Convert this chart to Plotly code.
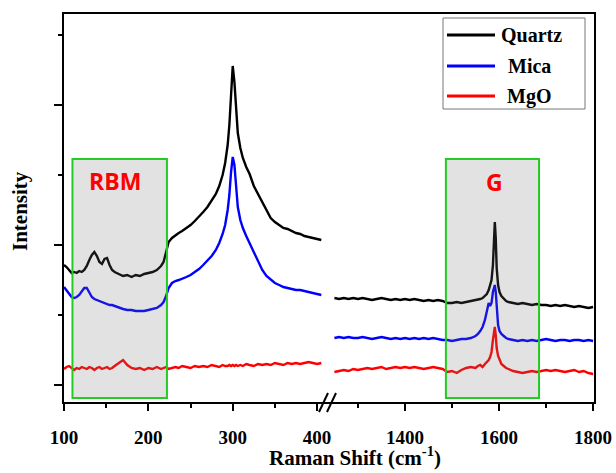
import plotly.graph_objects as go

# ---------------- data ----------------
left_shift = [100,103,106,109,112,115,118,121,124,127,
              130,133,136,139,142,145,148,151,154,157,
              160,165,170,175,180,185,190,195,200,205,
              210,215,218,221,224,228,232,236,240,245,
              250,255,260,265,270,275,280,284,288,291,
              294,296,298,300,302,304,306,309,312,316,
              320,325,330,335,340,345,350,355,360,365,
              370,375,380,385,390,395,400,405]

quartz_left = [138,136,133,130,131,130,132,131,133,137,
               143,148,151,147,141,139,144,145,138,133,
               131,129,127,128,126,128,127,129,130,131,
               133,137,141,151,161,165,168,170,172,175,
               178,182,186,191,196,202,209,217,228,240,
               258,278,308,337,321,291,270,255,245,236,
               229,217,209,200,192,185,181,178,175,174,
               172,170,169,167,166,165,164,163]

mica_left = [116,113,109,106,105,106,108,111,115,115,
             111,106,104,103,102,101,100,99,98,98,
             97,96,94,93,93,92,92,92,93,94,
             95,98,101,107,115,120,122,123,124,126,
             128,131,134,138,142,147,153,160,169,178,
             193,208,231,246,238,213,196,183,175,167,
             160,151,141,133,127,123,120,118,116,115,
             114,113,113,112,111,110,109,108]

mgo_left = [34,36,37,35,33,35,34,36,35,34,
            36,35,33,35,36,34,35,36,34,35,
            37,40,43,38,35,34,35,33,35,34,
            36,34,35,36,34,35,36,35,37,36,
            35,37,36,37,36,38,37,36,38,37,
            37,38,37,38,37,38,37,38,37,39,
            38,37,39,38,39,38,40,39,38,40,
            39,40,39,40,41,40,39,40]

right_shift = [1250,1260,1270,1280,1290,1300,1310,1320,1330,1340,
               1350,1360,1370,1380,1390,1400,1410,1420,1430,1440,
               1450,1460,1470,1480,1490,1500,1510,1520,1530,1540,
               1550,1555,1560,1565,1570,1574,1578,1581,1584,1587,
               1589,1591,1593,1595,1598,1601,1605,1610,1615,1620,
               1630,1640,1650,1660,1670,1680,1690,1700,1710,1720,
               1730,1740,1750,1760,1770,1780,1790,1800]

quartz_right = [105,104,105,104,105,104,105,104,103,104,
                105,104,103,104,103,104,103,104,103,102,
                103,102,103,102,100,100,101,100,101,102,
                103,103,104,105,107,109,113,117,123,138,
                163,181,165,135,118,111,107,104,102,101,
                100,99,100,99,98,99,98,98,97,98,
                97,98,97,96,97,96,95,96]

mica_right = [65,66,65,66,65,65,66,65,64,65,
              66,65,64,65,64,65,64,65,64,65,
              64,65,64,63,63,62,63,64,64,65,
              67,69,72,76,83,93,100,97,100,111,
              116,118,111,93,78,72,69,67,65,64,
              63,62,63,62,63,62,63,64,63,62,
              63,63,62,63,63,62,63,62]

mgo_right = [31,32,33,32,34,33,34,35,34,35,
             36,34,35,36,35,36,35,36,35,34,
             35,36,35,34,31,32,30,33,35,36,
             35,37,38,36,39,41,43,46,51,63,
             73,76,68,55,47,43,39,37,35,34,
             32,31,30,31,32,31,32,33,32,33,
             32,31,32,33,31,32,30,29]

series_names = ["Quartz", "Mica", "MgO"]
series_colors = ["#000000", "#0000ff", "#ff0000"]

left_ticks = [100, 200, 300, 400]
left_minor = [150, 250, 350]
right_ticks = [1400, 1600, 1800]
right_minor = [1300, 1500, 1700]
y_major = [18, 158, 298]
y_minor = [88, 228, 368]

rbm_band = [110, 222]
g_band = [1487, 1685]
band_y = [5, 244]

# ---------------- figure ----------------
W, H = 616, 473
L, R, T, B = 63, 21, 13, 70
pw, ph = W - L - R, H - T - B

def px(x):
    return (x - L) / pw

def py(y):
    return (H - B - y) / ph

fig = go.Figure()
lefts = [quartz_left, mica_left, mgo_left]
rights = [quartz_right, mica_right, mgo_right]
for name, col, yl, yr in zip(series_names, series_colors, lefts, rights):
    fig.add_trace(go.Scatter(x=left_shift, y=yl, mode="lines", name=name,
                             line=dict(color=col, width=2.4), showlegend=False,
                             xaxis="x", yaxis="y"))
    fig.add_trace(go.Scatter(x=right_shift, y=yr, mode="lines", name=name,
                             line=dict(color=col, width=2.4), showlegend=False,
                             xaxis="x2", yaxis="y"))

tickfont = dict(family="Liberation Serif", size=19, color="black", weight="bold")
common_x = dict(showgrid=False, zeroline=False, showline=False, ticks="outside",
                ticklen=7, tickwidth=2, tickcolor="black", tickfont=tickfont,
                ticklabelstandoff=10, anchor="y", automargin=False)

fig.update_layout(
    width=W, height=H, margin=dict(l=L, r=R, t=T, b=B, autoexpand=False),
    paper_bgcolor="white", plot_bgcolor="white",
    xaxis=dict(domain=[0, 260 / pw], range=[98.8, 407], tickmode="array",
               tickvals=left_ticks,
               minor=dict(tickvals=left_minor, ticks="outside", ticklen=4,
                          tickwidth=2, tickcolor="black"),
               **common_x),
    xaxis2=dict(domain=[270 / pw, 1], range=[1247, 1804], tickmode="array",
                tickvals=right_ticks,
                minor=dict(tickvals=right_minor, ticks="outside", ticklen=4,
                           tickwidth=2, tickcolor="black"),
                **common_x),
    yaxis=dict(domain=[0, 1], range=[0, 390], showgrid=False, zeroline=False,
               showline=False, ticks="outside", ticklen=8, tickwidth=2,
               tickcolor="black", tickmode="array", tickvals=y_major,
               showticklabels=False, automargin=False,
               minor=dict(tickvals=y_minor, ticks="outside", ticklen=4,
                          tickwidth=2, tickcolor="black")),
)

shapes = []
# highlighted bands (drawn above the spectra, semi-transparent)
for xref, band in (("x", rbm_band), ("x2", g_band)):
    shapes.append(dict(type="rect", xref=xref, yref="y", x0=band[0], x1=band[1],
                       y0=band_y[0], y1=band_y[1], layer="above",
                       fillcolor="rgba(110,110,110,0.2)",
                       line=dict(color="#22cc22", width=2)))
# frame
shapes.append(dict(type="rect", xref="paper", yref="paper", x0=0, x1=1, y0=0, y1=1,
                   line=dict(color="black", width=2), layer="above"))
# axis break marks
for x0, x1 in ((319, 328), (327, 336)):
    shapes.append(dict(type="line", xref="paper", yref="paper",
                       x0=px(x0), x1=px(x1), y0=py(412), y1=py(393),
                       line=dict(color="black", width=2), layer="above"))
# legend box
shapes.append(dict(type="rect", xref="paper", yref="paper",
                   x0=px(443), x1=px(585), y0=py(18), y1=py(109),
                   line=dict(color="#777777", width=1), fillcolor="white",
                   layer="above"))
leg_rows = [35, 66, 96]
leg_text_x = [499, 506, 505]
annotations = []
legfont = dict(family="Liberation Serif", size=20, color="black", weight="bold")
for name, col, yy, tx in zip(series_names, series_colors, leg_rows, leg_text_x):
    shapes.append(dict(type="line", xref="paper", yref="paper",
                       x0=px(447), x1=px(495), y0=py(yy), y1=py(yy),
                       line=dict(color=col, width=3), layer="above"))
    annotations.append(dict(xref="paper", yref="paper", x=px(tx), y=py(yy),
                            xanchor="left", yanchor="middle", text=name,
                            showarrow=False, font=legfont))

# band labels
bandfont = dict(family="Open Sans", size=23, color="#ff0000", weight="bold")
annotations.append(dict(xref="x", yref="y", x=161, y=222, text="RBM",
                        showarrow=False, font=bandfont, xanchor="center",
                        yanchor="middle"))
annotations.append(dict(xref="x2", yref="y", x=1590, y=221, text="G",
                        showarrow=False, font=bandfont, xanchor="center",
                        yanchor="middle"))
# axis titles
titlefont = dict(family="Liberation Serif", size=21, color="black", weight="bold")
annotations.append(dict(xref="paper", yref="paper", x=px(355), y=py(456),
                        text="Raman Shift (cm<sup>-1</sup>)", showarrow=False,
                        font=titlefont, xanchor="center", yanchor="middle"))
annotations.append(dict(xref="paper", yref="paper", x=px(20), y=py(211),
                        text="Intensity", showarrow=False, textangle=-90,
                        font=titlefont, xanchor="center", yanchor="middle"))

fig.update_layout(shapes=shapes, annotations=annotations)
fig.write_html("out.html", config={"displayModeBar": False},
               post_script="document.body.style.margin='0';"
                           "document.body.style.overflow='hidden';")
